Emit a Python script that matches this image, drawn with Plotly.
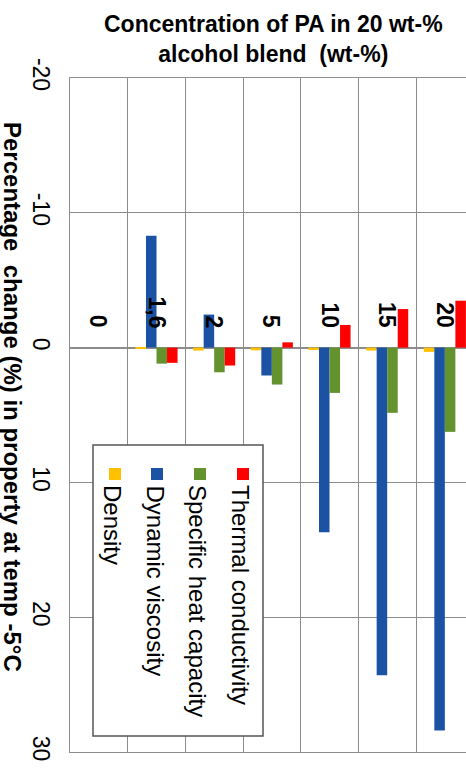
import plotly.graph_objects as go

# PA concentration in the 20 wt-% alcohol blend (wt-%)
categories = ["0", "1,6", "2", "5", "10", "15", "20"]

# Percentage change in each property at -5 °C
density = [0.0, 0.08, 0.22, 0.20, 0.18, 0.22, 0.32]
dynamic_viscosity = [0.0, -8.3, -2.45, 2.07, 13.7, 24.3, 28.4]
specific_heat = [0.0, 1.19, 1.83, 2.74, 3.36, 4.84, 6.25]
thermal_conductivity = [0.0, 1.13, 1.33, -0.39, -1.68, -2.86, -3.48]

series_names = ["Density", "Dynamic viscosity", "Specific heat capacity", "Thermal conductivity"]
series_values = [density, dynamic_viscosity, specific_heat, thermal_conductivity]
series_colors = ["#FFC000", "#1C52A4", "#63922F", "#FF0000"]

value_ticks = [-20, -10, 0, 10, 20, 30]

FONT = "Liberation Sans, Arial, sans-serif"
GRID = "#8c8c8c"

W, H = 466, 769
ML, MR, MT, MB = 70, 0, 78, 17
PW, PH = W - ML - MR, H - MT - MB
CAT_W = 57.67


def px(x):
    return (x - ML) / PW


def py(y):
    return (H - MB - y) / PH


fig = go.Figure()
for name, vals, col in zip(series_names, series_values, series_colors):
    fig.add_trace(go.Bar(
        x=categories, y=vals, name=name, marker_color=col,
        marker_line_width=0, showlegend=False,
    ))

# category labels sitting above the zero line, rotated
for i, c in enumerate(categories):
    fig.add_annotation(
        x=i, y=-1.3, xref="x", yref="y", text=f"<b>{c}</b>", showarrow=False,
        textangle=90, yanchor="bottom", xanchor="center",
        font=dict(family=FONT, size=23, color="black"),
    )

# chart title
fig.add_annotation(
    x=px(273), y=py(9), xref="paper", yref="paper",
    text="<b>Concentration of PA in 20 wt-%<br>alcohol blend  (wt-%)</b>",
    showarrow=False, xanchor="center", yanchor="top",
    font=dict(family=FONT, size=23, color="black"),
)

# rotated value-axis title
fig.add_annotation(
    x=px(13), y=py(397), xref="paper", yref="paper",
    text="<b>Percentage  change (%) in property at temp -5°C</b>",
    showarrow=False, textangle=90, xanchor="center", yanchor="middle",
    font=dict(family=FONT, size=24, color="black"),
)

# legend box drawn with rotated entries
fig.add_shape(type="rect", xref="paper", yref="paper",
              x0=px(93), x1=px(263), y0=py(736), y1=py(445),
              line=dict(color="#555555", width=1.5), fillcolor="white", layer="above")
legend_cols = [115, 157, 200, 243]
for name, col, cx in zip(series_names, series_colors, legend_cols):
    fig.add_shape(type="rect", xref="paper", yref="paper",
                  x0=px(cx - 6), x1=px(cx + 6), y0=py(480), y1=py(468),
                  line=dict(width=0), fillcolor=col, layer="above")
    fig.add_annotation(
        x=px(cx - 2), y=py(483), xref="paper", yref="paper", text=name,
        showarrow=False, textangle=90, xanchor="center", yanchor="top",
        font=dict(family=FONT, size=24, color="black"),
    )

fig.update_layout(
    width=W, height=H,
    margin=dict(l=ML, r=MR, t=MT, b=MB, pad=0),
    paper_bgcolor="white", plot_bgcolor="white",
    barmode="group", bargap=0.27, bargroupgap=0,
    xaxis=dict(
        type="category", categoryorder="array", categoryarray=categories,
        range=[-0.5, -0.5 + PW / CAT_W],
        showticklabels=False, ticks="", tickson="boundaries",
        showgrid=True, gridcolor=GRID, gridwidth=1,
        showline=True, linecolor=GRID, linewidth=1, mirror=True,
        zeroline=False,
    ),
    yaxis=dict(
        range=[30, -20], tickvals=value_ticks,
        ticktext=[str(v) for v in value_ticks],
        tickangle=90, ticks="", ticklabelstandoff=8,
        tickfont=dict(family=FONT, size=23, color="black"),
        showgrid=True, gridcolor=GRID, gridwidth=1,
        zeroline=True, zerolinecolor=GRID, zerolinewidth=1.5,
        showline=True, linecolor=GRID, linewidth=1, mirror=False,
    ),
)

fig.write_html("out.html")
